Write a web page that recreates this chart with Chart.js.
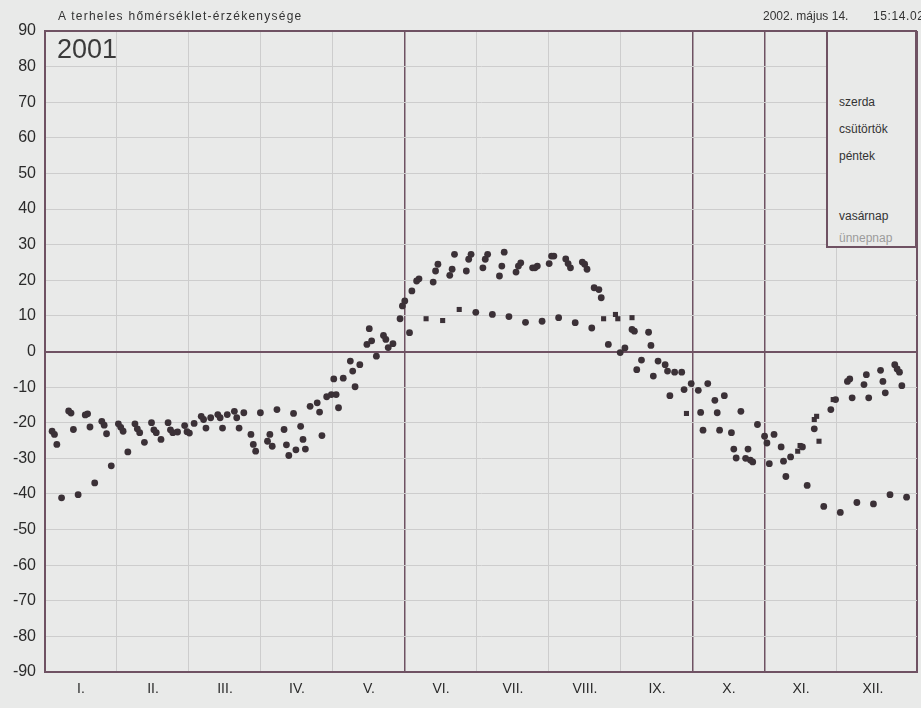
<!DOCTYPE html>
<html>
<head>
<meta charset="utf-8">
<title>A terhelés hőmérséklet-érzékenysége</title>
<script src="https://cdn.jsdelivr.net/npm/chart.js@4.4.1/dist/chart.umd.min.js"></script>
<style>
    html, body { margin: 0; padding: 0; background: #e9eae9; }
    #wrap { position: relative; width: 921px; height: 708px; overflow: hidden;
            font-family: "Liberation Sans", Arial, sans-serif; color: #333; }
    #myChart { position: absolute; left: 0; top: 0; }
    .txt { position: absolute; white-space: nowrap; }
    #title { left: 58px; top: 9px; font-size: 12px; letter-spacing: 1.25px; }
    #stampDate { left: 763px; top: 9px; font-size: 12px; }
    #stampTime { left: 873px; top: 9px; font-size: 12px; letter-spacing: 0.6px; }
    #year { left: 57px; top: 34px; font-size: 27px; color: #3a3a3a; }
    #legendBox { position: absolute; left: 826px; top: 30px; width: 87px; height: 214px;
                 border: 2px solid #6f5263; background: #e9eae9; }
    #legendBox div { position: absolute; left: 11px; font-size: 12px; white-space: nowrap; }
</style>
</head>
<body>
<div id="wrap">
    <canvas id="myChart" width="921" height="708"></canvas>
    <div class="txt" id="title">A terheles hőmérséklet-érzékenysége</div>
    <div class="txt" id="stampDate">2002. május 14.</div>
    <div class="txt" id="stampTime">15:14.02</div>
    <div class="txt" id="year">2001</div>
    <div id="legendBox">
        <div style="top:63px">szerda</div>
        <div style="top:90px">csütörtök</div>
        <div style="top:117px">péntek</div>
        <div style="top:177px">vasárnap</div>
        <div style="top:199px; color:#9c9c9c">ünnepnap</div>
    </div>
</div>
<script>
// 2001: az év napjai (jan. 1. = 1), a hetek szerdától indulnak
const firstWednesday = 3;
const monthLabels = ['I.', 'II.', 'III.', 'IV.', 'V.', 'VI.', 'VII.', 'VIII.', 'IX.', 'X.', 'XI.', 'XII.'];
const yTicks = [-90, -80, -70, -60, -50, -40, -30, -20, -10, 0, 10, 20, 30, 40, 50, 60, 70, 80, 90];

// heti értékek (52 hét)
const szerda = [-22.4, -16.7, -17.8, -19.6, -20.3, -20.3, -20.0, -20.0, -20.8, -18.2,
    -17.7, -16.8, -23.3, -25.2, -21.9, -21.0, -14.4, -7.7, -2.7, 2.0,
    4.5, 9.2, 19.8, 19.5, 21.4, 22.6, 23.5, 21.2, 22.3, 23.5,
    24.7, 26.0, 25.1, 17.4, null, 6.2, 5.4, -3.7, -5.8, -10.9,
    -13.7, -22.8, -27.4, -23.8, -26.8, null, -21.7, -16.3, -8.4, -9.3,
    -5.3, -4.9];
const csutortok = [-23.3, -17.3, -17.5, -20.7, -21.3, -21.7, -22.0, -22.0, -22.5, -19.1,
    -18.6, -18.6, -26.1, -23.3, -26.2, -24.7, -17.0, -12.1, -5.5, 6.4,
    3.4, 12.8, 20.4, 22.6, 23.1, 25.9, 25.9, 24.0, 24.0, 23.5,
    26.8, 24.7, 24.5, 15.1, null, 5.7, 1.7, -5.5, -10.7, -17.1,
    -17.2, -27.4, -30.5, -25.7, -30.8, null, null, null, -7.7, -6.5,
    -8.4, -5.8];
const pentek = [-26.1, -21.9, -21.2, -23.1, -22.4, -22.8, -22.8, -22.8, -22.9, -21.5,
    -21.5, -21.5, -28.0, -26.6, -29.2, -27.4, -23.6, -15.8, -9.9, 3.0,
    1.1, 14.2, null, 24.5, 27.3, 27.3, 27.3, 27.9, 24.9, 24.0,
    26.8, 23.5, 23.1, null, -0.3, -5.1, -6.9, -12.4, null, -22.1,
    -22.1, -29.9, -31.0, -31.5, -35.1, -26.8, null, -13.5, -13.0, -13.0,
    -11.6, -9.6];
const vasarnap = [-41.1, -40.2, -36.9, -32.1, -28.2, -25.5, -24.7, -22.6, -20.2, -18.6,
    -17.7, -17.2, -17.2, -16.3, -17.4, -15.4, -12.7, -7.5, -3.7, -1.3,
    2.2, 5.3, null, null, null, 11.0, 10.4, 9.8, 8.2, 8.5,
    9.5, 8.1, 6.6, 2.0, 1.0, -2.4, -2.7, -5.8, -9.0, -9.0,
    -12.4, -16.8, -20.5, -23.3, -29.6, -37.6, -43.5, -45.2, -42.4, -42.8,
    -40.2, -40.9];

// ünnepnapok
const unnepnapDays = [106, 121, 155, 232, 296, 359];
const unnepnapValues = [-27.6, -12.1, 17.0, 17.9, -30.0, -3.7];

// négyzettel jelölt napok
const szunetDays = [161, 168, 175, 236, 241, 242, 248, 271, 318, 319, 325, 326, 327, 333];
const szunetValues = [9.2, 8.7, 11.8, 9.2, 10.4, 9.2, 9.5, -17.4, -28.0, -26.4, -19.1, -18.2, -25.2, -13.5];

const monthLen = 365 / 12;
const xMax = 368.4;
const darkMonthLines = [5, 9, 10];

const frameColor = '#6f5263';
const gridColor = '#cdcdcd';
const dotColor = '#3b3137';

function weekPoints(values, offset) {
    let pts = [];
    values.forEach((v, w) => {
        if (v !== null) pts.push({x: firstWednesday + offset + 7 * w, y: v});
    });
    return pts;
}

function dayPoints(days, values) {
    return days.map((d, i) => ({x: d, y: values[i]}));
}

function isMid(value) {
    let f = value / monthLen - Math.floor(value / monthLen);
    return Math.abs(f - 0.5) < 0.01;
}

function dotSet(label, data, style) {
    return {
        label: label,
        data: data,
        pointStyle: style,
        pointRadius: style === 'rect' ? 3.6 : 3.4,
        pointBackgroundColor: dotColor,
        pointBorderColor: dotColor,
        pointBorderWidth: 0,
        showLine: false
    };
}

Chart.defaults.font.family = "'Liberation Sans', Arial, sans-serif";
Chart.defaults.color = '#2b2b2b';

var ctx = document.getElementById('myChart').getContext('2d');
var myChart = new Chart(ctx, {
    type: 'scatter',
    data: {
        datasets: [
            dotSet('szerda', weekPoints(szerda, 0), 'circle'),
            dotSet('csütörtök', weekPoints(csutortok, 1), 'circle'),
            dotSet('péntek', weekPoints(pentek, 2), 'circle'),
            dotSet('vasárnap', weekPoints(vasarnap, 4), 'circle'),
            dotSet('ünnepnap', dayPoints(unnepnapDays, unnepnapValues), 'circle'),
            dotSet('szünet', dayPoints(szunetDays, szunetValues), 'rect')
        ]
    },
    options: {
        responsive: false,
        animation: false,
        devicePixelRatio: 1,
        layout: { padding: { top: 31, right: 3, left: 0, bottom: 0 } },
        plugins: {
            legend: { display: false },
            tooltip: { enabled: false }
        },
        scales: {
            x: {
                type: 'linear',
                min: 0,
                max: xMax,
                afterBuildTicks: (axis) => {
                    let t = [{value: 0}];
                    for (let k = 0; k < 12; k++) {
                        t.push({value: (k + 0.5) * monthLen});
                        if (k < 11) t.push({value: (k + 1) * monthLen});
                    }
                    t.push({value: xMax});
                    axis.ticks = t;
                },
                afterFit: (axis) => {
                    axis.height = 36;
                    axis.paddingLeft = 0;
                    axis.paddingRight = 0;
                },
                ticks: {
                    autoSkip: false,
                    maxRotation: 0,
                    padding: 9,
                    font: { size: 14 },
                    callback: (value) => isMid(value) ? monthLabels[Math.floor(value / monthLen)] : ''
                },
                grid: {
                    drawTicks: false,
                    color: (c) => {
                        let v = c.tick.value;
                        if (isMid(v)) return 'rgba(0,0,0,0)';
                        if (v === 0 || v === xMax) return frameColor;
                        let k = Math.round(v / monthLen);
                        return darkMonthLines.includes(k) ? frameColor : gridColor;
                    },
                    lineWidth: (c) => {
                        let v = c.tick.value;
                        if (v === 0 || v === xMax) return 2;
                        let k = Math.round(v / monthLen);
                        return darkMonthLines.includes(k) && !isMid(v) ? 1.5 : 1;
                    }
                },
                border: { color: frameColor, width: 2 }
            },
            y: {
                min: -90,
                max: 90,
                afterBuildTicks: (axis) => { axis.ticks = yTicks.map(v => ({value: v})); },
                afterFit: (axis) => { axis.width = 45; },
                ticks: {
                    padding: 9,
                    font: { size: 16 }
                },
                grid: {
                    drawTicks: false,
                    color: (c) => (c.tick.value === 0 || Math.abs(c.tick.value) === 90) ? frameColor : gridColor,
                    lineWidth: (c) => (c.tick.value === 0 || Math.abs(c.tick.value) === 90) ? 2 : 1
                },
                border: { color: frameColor, width: 2 }
            }
        }
    }
});
</script>
</body>
</html>
